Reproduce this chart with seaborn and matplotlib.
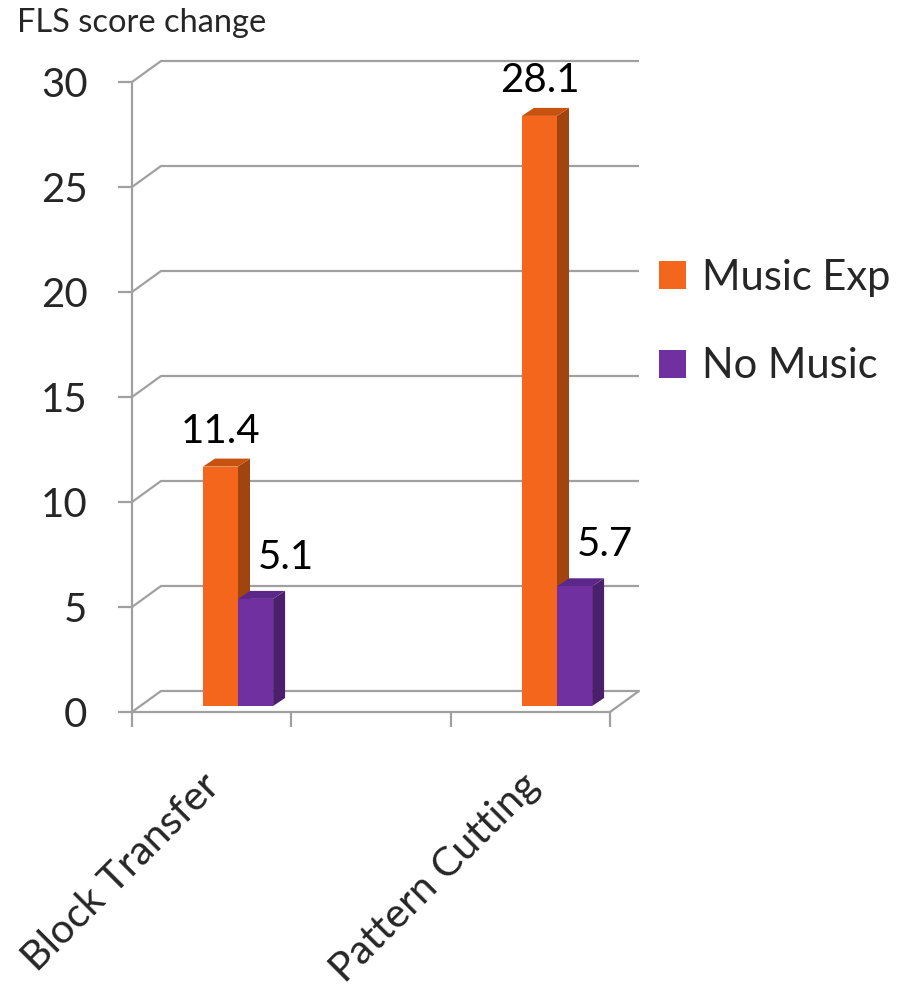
import numpy as np
import pandas as pd
import matplotlib
matplotlib.use("Agg")
import matplotlib.pyplot as plt
import seaborn as sns
from matplotlib.patches import Patch, Polygon
from matplotlib.transforms import offset_copy

# ---- data ----
categories = ["Block Transfer", "Pattern Cutting"]
groups = ["Music Exp", "No Music"]
music_exp = [11.4, 28.1]
no_music = [5.1, 5.7]
y_ticks = [0, 5, 10, 15, 20, 25, 30]
y_label = "FLS score change"

front_colors = ["#F4661B", "#7030A0"]
side_colors = ["#A2440F", "#4B1F6B"]
top_colors = ["#C8520F", "#5B2788"]
grid_color = "#A0A0A0"

df = pd.DataFrame({
    "task": categories * 2,
    "group": [groups[0]] * 2 + [groups[1]] * 2,
    "score": music_exp + no_music,
})

sns.set_theme(style="white")
plt.rcParams["font.family"] = ["Lato", "DejaVu Sans"]

W, H = 898, 994
fig = plt.figure(figsize=(W / 100, H / 100), dpi=100)

# front frame axes (y scale + floor)
ax = fig.add_axes([132 / W, (H - 712) / H, 478 / W, 630 / H])
ax.set_xlim(0, 3)
ax.set_ylim(0, 30)
ax.set_facecolor("none")
for s in ["top", "right"]:
    ax.spines[s].set_visible(False)
for s in ["left", "bottom"]:
    ax.spines[s].set_color(grid_color)
    ax.spines[s].set_linewidth(1.6)
ax.set_yticks(y_ticks)
ax.set_yticklabels([str(v) for v in y_ticks], fontsize=29)
ax.set_xticks([0, 1, 2, 3])
ax.set_xticklabels([])
ax.tick_params(axis="y", direction="out", length=10, width=1.6, color=grid_color,
               pad=22, left=True)
ax.tick_params(axis="x", direction="out", length=11, width=1.6, color=grid_color,
               bottom=True)
ax.set_ylabel(y_label, rotation=0, fontsize=23.5, ha="left", va="top")
ax.yaxis.set_label_coords(-0.2406, 1.118)

# perspective back wall offset in data units of ax
px_x = 478 / 3.0
px_y = 630 / 30.0
bdx = 29 / px_x
bdy = 21 / px_y
for v in y_ticks:
    ax.plot([bdx, 3 + bdx], [v + bdy, v + bdy], color=grid_color, lw=1.6,
            clip_on=False, zorder=1, solid_capstyle="butt")
    ax.plot([0, bdx], [v, v + bdy], color=grid_color, lw=1.6, clip_on=False, zorder=1)
ax.plot([3, 3 + bdx], [0, bdy], color=grid_color, lw=1.6, clip_on=False, zorder=1)

# bars axes
ax_bar = fig.add_axes([132 / W, (H - 706) / H, 478 / W, 630 / H])
ax_bar.set_facecolor("none")
sns.barplot(data=df, x="task", y="score", hue="group", palette=front_colors,
            width=0.22, gap=0, saturation=1, linewidth=0, legend=False, ax=ax_bar)
ax_bar.set_xlim((132 - 238) / 319, (610 - 238) / 319)
ax_bar.set_ylim(0, 30)
ax_bar.axis("off")

# 3D faces derived from the seaborn bars
ddx = 12 / 319
ddy = 8 / 21
bars = [p for p in ax_bar.patches]
for k, p in enumerate(bars):
    gi = k // len(categories)
    x0 = p.get_x()
    w = p.get_width()
    h = p.get_height()
    x1 = x0 + w
    p.set_zorder(3)
    side = Polygon([[x1, 0], [x1, h], [x1 + ddx, h + ddy], [x1 + ddx, ddy]],
                   closed=True, facecolor=side_colors[gi], edgecolor="none", zorder=2)
    top = Polygon([[x0, h], [x1, h], [x1 + ddx, h + ddy], [x0 + ddx, h + ddy]],
                  closed=True, facecolor=top_colors[gi], edgecolor="none", zorder=2.5)
    ax_bar.add_patch(side)
    ax_bar.add_patch(top)
    # data label
    off = (0, 24) if gi == 0 else (30, 30)
    ax_bar.annotate(f"{h:.1f}", xy=(x0 + w / 2, h), xytext=off,
                    textcoords="offset pixels", ha="center", va="baseline",
                    fontsize=29, color="black", zorder=5, annotation_clip=False)

# category labels (rotated)
for i, c in enumerate(categories):
    tr = offset_copy(ax_bar.get_xaxis_transform(), fig=fig, x=-24, y=-74, units="dots")
    ax_bar.text(i, 0, c, transform=tr, rotation=45, rotation_mode="anchor",
                ha="right", va="center", fontsize=29.5, clip_on=False)

# legend
handles = [Patch(facecolor=front_colors[0], edgecolor="none"),
           Patch(facecolor=front_colors[1], edgecolor="none")]
fig.legend(handles, groups, loc="center left", bbox_to_anchor=(659 / W, 1 - 322 / H),
           frameon=False, fontsize=30, handlelength=0.65, handleheight=0.65,
           handletextpad=0.38, labelspacing=1.22, borderpad=0, borderaxespad=0)

fig.savefig("out.png", dpi=100)
